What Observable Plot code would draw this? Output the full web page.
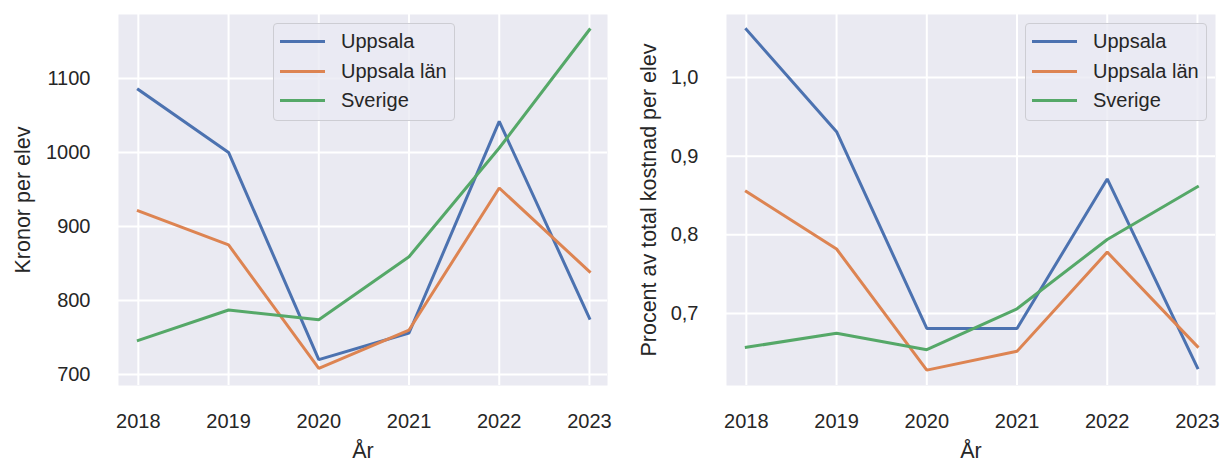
<!DOCTYPE html>
<html>
<head>
<meta charset="utf-8">
<script src="https://cdn.jsdelivr.net/npm/d3@7"></script>
<script src="https://cdn.jsdelivr.net/npm/@observablehq/plot@0.6"></script>
<style>
  html, body { margin: 0; padding: 0; background: #fff; }
  #wrap { position: relative; width: 1221px; height: 461px; font-family: "Liberation Sans", Arial, sans-serif; color: #262626; }
  .panel { position: absolute; top: 0; }
  .panel g[aria-label="x-axis label"] text, .panel g[aria-label="y-axis label"] text { font-size: 21.5px; }
  .legend { position: absolute; box-sizing: border-box; background: rgba(234,234,242,0.8); border: 1px solid #cdcdd3; border-radius: 4px; padding: 3px 0 0 0; }
  .legend .row { display: flex; align-items: center; height: 29.5px; font-size: 20px; color: #262626; }
  .legend .sw { display: inline-block; width: 45px; height: 3px; margin-left: 6px; margin-right: 16px; }
</style>
</head>
<body>
<div id="wrap"></div>
<script>
const years = [2018, 2019, 2020, 2021, 2022, 2023];
const seriesNames = ["Uppsala", "Uppsala län", "Sverige"];
const seriesColors = ["#4C72B0", "#DD8452", "#55A868"];

// Kronor per elev
const kronorUppsala = [1085, 1000, 720, 756, 1042, 776];
const kronorLan = [921, 875, 708, 760, 952, 839];
const kronorSverige = [746, 787, 774, 859, 1006, 1166];

// Procent av total kostnad per elev
const procentUppsala = [1.061, 0.931, 0.681, 0.681, 0.871, 0.631];
const procentLan = [0.855, 0.782, 0.628, 0.652, 0.778, 0.658];
const procentSverige = [0.657, 0.675, 0.654, 0.706, 0.794, 0.861];

const kronorTicks = [700, 800, 900, 1000, 1100];
const procentTicks = [0.7, 0.8, 0.9, 1.0];

function toRows(lists) {
  const rows = [];
  lists.forEach((vals, i) => vals.forEach((v, j) => rows.push({year: years[j], value: v, series: seriesNames[i]})));
  return rows;
}

const kronorData = toRows([kronorUppsala, kronorLan, kronorSverige]);
const procentData = toRows([procentUppsala, procentLan, procentSverige]);

function panel({data, yDomain, yTicks, yFormat, yLabel, width, marginLeft, marginRight, labelOffset}) {
  return Plot.plot({
    width, height: 461,
    marginTop: 14, marginBottom: 76, marginLeft, marginRight,
    style: {fontFamily: '"Liberation Sans", Arial, sans-serif', fontSize: "20px", color: "#262626", background: "transparent", overflow: "visible"},
    x: {domain: [2017.78, 2023.2]},
    y: {domain: yDomain},
    color: {domain: seriesNames, range: seriesColors},
    marks: [
      Plot.frame({fill: "#EAEAF2", stroke: null}),
      Plot.gridX(years, {stroke: "#fff", strokeOpacity: 1, strokeWidth: 2}),
      Plot.gridY(yTicks, {stroke: "#fff", strokeOpacity: 1, strokeWidth: 2}),
      Plot.line(data, {x: "year", y: "value", z: "series", stroke: "series", strokeWidth: 3, strokeLinejoin: "miter", strokeLinecap: "square"}),
      Plot.axisX({ticks: years, tickFormat: d => String(d), tickSize: 0, tickPadding: 28, fontSize: 20, label: "År", labelAnchor: "center", labelArrow: "none", labelOffset: 72}),
      Plot.axisY({ticks: yTicks, tickFormat: yFormat, tickSize: 0, tickPadding: 28, fontSize: 20, label: yLabel, labelAnchor: "center", labelArrow: "none", labelOffset})
    ]
  });
}

function legend(left, top, width) {
  const box = document.createElement("div");
  box.className = "legend";
  box.style.left = left + "px";
  box.style.top = top + "px";
  box.style.width = width + "px";
  box.style.height = "98px";
  seriesNames.forEach((name, i) => {
    const row = document.createElement("div");
    row.className = "row";
    const sw = document.createElement("span");
    sw.className = "sw";
    sw.style.background = seriesColors[i];
    row.appendChild(sw);
    row.appendChild(document.createTextNode(name));
    box.appendChild(row);
  });
  return box;
}

const wrap = document.getElementById("wrap");

const left = panel({data: kronorData, yDomain: [685, 1186.5], yTicks: kronorTicks, yFormat: d => String(d), yLabel: "Kronor per elev", width: 610, marginLeft: 118, marginRight: 3, labelOffset: 104});
const leftDiv = document.createElement("div");
leftDiv.className = "panel"; leftDiv.style.left = "0px";
leftDiv.appendChild(left);
wrap.appendChild(leftDiv);

const right = panel({data: procentData, yDomain: [0.6085, 1.080], yTicks: procentTicks, yFormat: d => d.toFixed(1).replace(".", ","), yLabel: "Procent av total kostnad per elev", width: 611, marginLeft: 116, marginRight: 6, labelOffset: 86});
const rightDiv = document.createElement("div");
rightDiv.className = "panel"; rightDiv.style.left = "610px";
rightDiv.appendChild(right);
wrap.appendChild(rightDiv);

wrap.appendChild(legend(273, 23, 182));
wrap.appendChild(legend(1025, 23, 182));
</script>
</body>
</html>
